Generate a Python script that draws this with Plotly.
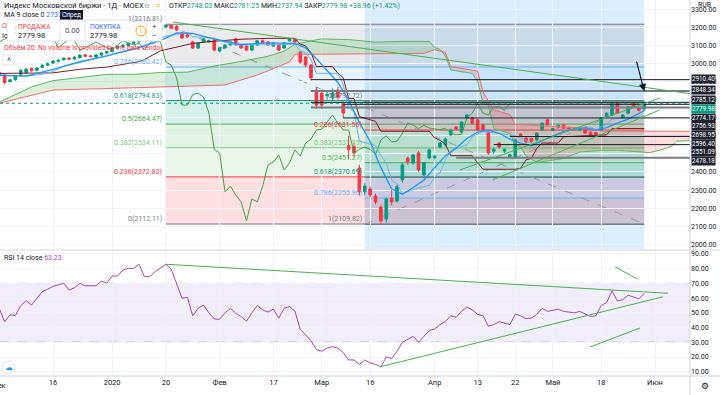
import plotly.graph_objects as go

# ---------------- data ----------------
bar_index = list(range(121))
opens = [2950, 2936, 2900, 2910, 2940, 2950, 2972, 2962, 2978, 2990,
         3002, 3012, 3020, 3030, 3025, 3032, 3048, 3042, 3036, 3047,
         3058, 3066, 3086, 3094, 3100, 3112, 3119, 3135, 3142, 3158,
         3176, 3202, 3212, 3205, 3169, 3158, 3119, 3086, 3119, 3120,
         3130, 3069, 3086, 3102, 3136, 3102, 3097, 3074, 3102, 3125,
         3119, 3097, 3102, 3086, 3125, 3136, 3063, 3036, 2991, 2853,
         2836, 2822, 2810, 2853, 2780, 2545, 2540, 2422, 2290, 2306,
         2267, 2206, 2140, 2255, 2240, 2356, 2477, 2450, 2505, 2383,
         2477, 2480, 2538, 2549, 2605, 2648, 2621, 2698, 2700, 2688,
         2660, 2621, 2515, 2560, 2515, 2485, 2483, 2610, 2588, 2585,
         2577, 2632, 2688, 2630, 2648, 2660, 2645, 2642, 2632, 2637,
         2620, 2618, 2632, 2705, 2715, 2780, 2698, 2725, 2780, 2752,
         2748.03]
highs = [2962, 2940, 2915, 2935, 2968, 2975, 2978, 2980, 2995, 3005,
         3018, 3022, 3032, 3035, 3040, 3050, 3052, 3046, 3052, 3062,
         3070, 3090, 3098, 3108, 3115, 3125, 3140, 3148, 3162, 3180,
         3205, 3216.81, 3215, 3212, 3172, 3162, 3125, 3118, 3140, 3132,
         3138, 3090, 3105, 3122, 3142, 3108, 3102, 3105, 3128, 3132,
         3124, 3118, 3108, 3118, 3140, 3140, 3068, 3040, 2998, 2870,
         2850, 2845, 2862, 2872, 2790, 2600, 2560, 2440, 2340, 2320,
         2280, 2215, 2260, 2300, 2330, 2450, 2485, 2500, 2515, 2455,
         2530, 2495, 2565, 2590, 2640, 2655, 2680, 2720, 2705, 2695,
         2668, 2625, 2535, 2565, 2530, 2500, 2585, 2615, 2592, 2590,
         2620, 2675, 2695, 2645, 2662, 2665, 2650, 2646, 2648, 2640,
         2625, 2622, 2702, 2730, 2790, 2785, 2720, 2765, 2785, 2756,
         2781.25]
lows = [2930, 2885, 2895, 2905, 2935, 2945, 2955, 2958, 2975, 2985,
        2998, 3005, 3015, 3020, 3020, 3028, 3035, 3034, 3032, 3042,
        3052, 3060, 3078, 3085, 3095, 3105, 3115, 3128, 3138, 3150,
        3170, 3195, 3190, 3180, 3135, 3142, 3080, 3080, 3115, 3115,
        3068, 3062, 3082, 3098, 3100, 3080, 3070, 3070, 3098, 3110,
        3098, 3092, 3070, 3080, 3122, 3112, 2998, 2980, 2905, 2750,
        2750, 2800, 2800, 2800, 2700, 2470, 2480, 2270, 2270, 2260,
        2220, 2109.82, 2120, 2215, 2230, 2340, 2440, 2440, 2400, 2380,
        2470, 2470, 2530, 2540, 2600, 2630, 2615, 2695, 2660, 2625,
        2625, 2495, 2500, 2530, 2505, 2480, 2475, 2595, 2560, 2562,
        2570, 2625, 2652, 2625, 2640, 2638, 2630, 2628, 2628, 2610,
        2598, 2595, 2625, 2700, 2710, 2720, 2695, 2720, 2755, 2735,
        2737.94]
closes = [2940, 2895, 2910, 2930, 2962, 2968, 2960, 2975, 2990, 2998,
          3013, 3018, 3030, 3024, 3035, 3046, 3040, 3038, 3047, 3058,
          3066, 3086, 3094, 3100, 3112, 3119, 3135, 3142, 3158, 3176,
          3200, 3210, 3195, 3185, 3141, 3147, 3086, 3113, 3136, 3125,
          3074, 3086, 3102, 3119, 3102, 3086, 3074, 3102, 3125, 3114,
          3102, 3113, 3074, 3113, 3136, 3119, 3008, 2991, 2920, 2770,
          2770, 2828, 2836, 2814, 2726, 2525, 2505, 2290, 2322, 2273,
          2234, 2130, 2250, 2235, 2320, 2439, 2455, 2494, 2411, 2450,
          2522, 2488, 2560, 2582, 2632, 2637, 2676, 2715, 2670, 2632,
          2632, 2505, 2525, 2538, 2525, 2495, 2577, 2600, 2566, 2570,
          2615, 2670, 2660, 2640, 2658, 2643, 2638, 2634, 2642, 2615,
          2605, 2608, 2698, 2725, 2780, 2725, 2715, 2760, 2760, 2741.02,
          2779.98]

tick_pos = [10, 21, 31, 41, 51, 60, 69, 81, 89, 96, 103, 112, 122]
tick_text = ["16", "2020", "20", "Фев", "17", "Мар", "16", "Апр", "13", "22", "Май", "18", "Июн"]
first_label = "Дек"
price_ticks = [2000, 2100, 2200, 2300, 2400, 2500, 2600, 2700, 2800, 2900, 3000, 3100, 3200, 3300]
rsi_ticks = [10, 20, 30, 40, 50, 60, 70, 80, 90]

ma9_idx = [0, 5, 10, 15, 20, 25, 30, 33, 36, 40, 45, 50, 55, 57, 59, 61, 63, 65, 67, 69, 71, 73, 75, 77, 79,
           81, 83, 85, 87, 89, 91, 93, 95, 97, 99, 101, 103, 105, 107, 109, 111, 113, 115, 117, 119, 120]
ma9_val = [2935, 2930, 2967, 3010, 3042, 3080, 3126, 3169, 3166, 3134, 3105, 3114, 3111, 3086, 3027, 2962, 2895,
           2798, 2674, 2569, 2424, 2307, 2277, 2314, 2354, 2424, 2489, 2531, 2585, 2621, 2631, 2614, 2582, 2559,
           2545, 2573, 2599, 2625, 2636, 2644, 2631, 2645, 2670, 2692, 2724, 2737.5]

tenkan_idx = [0, 5, 8, 10, 12, 14, 16, 18, 20, 22, 24, 26, 28, 30, 31, 33, 35, 36, 40, 42,
              44, 55, 56, 57, 58, 59, 63, 64, 65, 66, 67, 70, 71, 72, 73, 74, 75, 78, 80, 81,
              82, 83, 84, 86, 87, 88, 90, 96, 98, 99, 100, 102, 104, 105, 110, 111, 112, 113, 114, 120]
tenkan_val = [2935, 2930, 2940, 2956, 2983, 2997, 3013, 3025, 3042, 3059, 3073, 3086, 3107, 3141, 3151, 3161,
              3172, 3148, 3141, 3117, 3102, 3105, 3069, 3060, 3022, 2945, 2945, 2884, 2755, 2734, 2571, 2546,
              2491, 2450, 2355, 2335, 2280, 2312, 2325, 2372, 2395, 2465, 2520, 2540, 2550, 2595, 2625, 2600,
              2575, 2555, 2550, 2590, 2588, 2628, 2648, 2633, 2650, 2662, 2693, 2707]

kijun_idx = [0, 10, 15, 20, 26, 27, 30, 36, 40, 45, 50, 55, 56, 57, 58, 59, 62, 63, 64, 65,
             66, 67, 70, 71, 80, 81, 82, 83, 84, 88, 89, 90, 96, 97, 98, 99, 100, 101, 104, 105, 113, 114, 120]
kijun_val = [2945, 2948, 2968, 2980, 3010, 3022, 3070, 3111, 3123, 3134, 3139, 3139, 3107, 3097, 3060, 2983,
             2983, 2946, 2921, 2806, 2806, 2706, 2680, 2625, 2625, 2589, 2575, 2554, 2490, 2490, 2450, 2415,
             2415, 2420, 2467, 2475, 2530, 2560, 2560, 2595, 2605, 2640, 2640]

spanA_idx = [0, 6, 10, 20, 25, 30, 35, 40, 45, 50, 53, 55, 58, 60, 65, 70, 75, 80, 81, 82, 82.4,
             83, 84, 88, 89, 90, 91, 92, 95, 96, 97, 98, 100, 105, 108, 112, 115, 121, 123, 125, 126, 129]
spanA_val = [2787, 2870, 2905, 2940, 2940, 2950, 2952, 2986, 3011, 3040, 3068, 3105, 3125, 3136, 3132, 3118,
             3122, 3122, 3088, 3078, 3064, 3041, 2964, 2945, 2902, 2780, 2770, 2640, 2613, 2558, 2537, 2490,
             2452, 2475, 2510, 2520, 2520, 2507, 2521, 2540, 2570, 2574]
spanB_idx = [0, 10, 30, 42, 48, 54, 55, 79, 81, 82.4, 83, 84, 89, 90, 92, 95, 96, 110, 112, 129]
spanB_val = [2780, 2853, 2870, 2881, 2936, 3008, 3050, 3056, 3076, 3064, 3061, 2983, 2958, 2843, 2743, 2718,
             2663, 2641, 2626, 2625]
cloud_switch = 82.4
lag_shift = 25

rsi_vals = [53.0, 44.0, 48.6, 48.2, 54.9, 58.2, 55.3, 60.0, 64.4, 66.0,
            68.0, 69.0, 70.1, 65.5, 67.1, 70.0, 68.4, 68.4, 68.4, 71.6,
            70.1, 75.0, 75.0, 79.1, 80.2, 80.2, 83.0, 74.6, 74.6, 78.0,
            80.5, 83.0, 79.6, 70.0, 59.9, 60.5, 47.9, 53.1, 55.3, 50.0,
            45.8, 45.6, 50.0, 53.1, 49.7, 47.5, 44.3, 50.0, 54.9, 52.0,
            50.5, 52.6, 46.4, 53.1, 54.2, 51.2, 38.8, 35.0, 31.0, 25.0,
            24.0, 26.0, 27.0, 26.0, 23.0, 18.0, 18.0, 15.0, 18.0, 16.0,
            15.0, 13.3, 20.0, 19.0, 24.0, 30.0, 32.0, 34.0, 30.0, 34.0,
            38.0, 39.0, 42.0, 44.0, 48.0, 47.0, 51.0, 54.0, 52.0, 49.0,
            48.0, 41.0, 42.0, 44.0, 43.0, 42.0, 49.0, 48.0, 46.0, 46.5,
            49.0, 53.0, 51.0, 51.5, 52.5, 51.0, 50.5, 50.0, 51.0, 49.0,
            47.5, 48.0, 55.0, 57.0, 65.0, 58.0, 59.0, 62.0, 60.5, 59.5,
            63.23]

fib_coefs = ["1", "0.786", "0.618", "0.5", "0.382", "0.236", "0"]
fib1_x = [31, 120]
fib1_prices = [3216.81, 2980.42, 2794.83, 2664.47, 2534.11, 2372.82, 2112.11]
fib2_x = [68, 120]
fib2_prices = [2109.82, 2255.96, 2370.69, 2451.27, 2531.85, 2631.56, 2792.72]
range_box_x = [68, 120]

hline_prices = [2910.40, 2848.34, 2785.12, 2774.17, 2756.93, 2698.95, 2596.40, 2551.09, 2478.18]
hline_start = [58, 58, 58, 64, 58, 64, 95, 92, 85]

ptrend_x0 = [32.3, 85.7, 91.8]
ptrend_y0 = [3229, 2411, 2356]
ptrend_x1 = [128.5, 122.9, 122.9]
ptrend_y1 = [2833, 2809, 2743]

rtrend_x0 = [31, 70.8, 114.6, 109.9]
rtrend_y0 = [83.0, 13.3, 81.2, 26.8]
rtrend_x1 = [124.4, 123.5, 118.7, 119.2]
rtrend_y1 = [63.3, 60.9, 73.0, 39.7]

arrow_tail = (118.5, 3019)
arrow_tip = (120.0, 2847)

# ---------------- styles ----------------
FONT = "Roboto, Arial, sans-serif"
TXT = "#131722"
UP = "#089981"
DN = "#F23645"
fib_colors = {"1": "#787B86", "0.786": "#64B5F6", "0.618": "#089981", "0.5": "#4CAF50",
              "0.382": "#81C784", "0.236": "#F23645", "0": "#787B86"}
hline_colors = ["#131722", "#787B86", "#131722", "#131722", "#787B86", "#131722", "#131722", "#131722", "#787B86"]
hline_widths = [1, 2, 1, 1, 2, 1, 1, 1, 2]
hline_label_shift = [0.7, 1, 2, -13.8, -19, -17, -7.5, -7.5, -2.7]
cur_label_shift = -5.3

X_RANGE = [0.14, 128.51]
PW, PH = 690.0, 376.0


def hexa(c, a):
    c = c.lstrip("#")
    return "rgba(%d,%d,%d,%s)" % (int(c[0:2], 16), int(c[2:4], 16), int(c[4:6], 16), a)


def px(x):
    return x / PW


def py(y):
    return 1 - y / PH


fig = go.Figure()
shapes = []
ann = []

# range highlight
shapes.append(dict(type="rect", xref="x2", yref="paper", x0=range_box_x[0], x1=range_box_x[1],
                   y0=py(249), y1=1, fillcolor="rgba(33,150,243,0.16)", line_width=0, layer="below"))


def add_fib(xs, prices, labelside_shift):
    for k in range(len(prices) - 1):
        shapes.append(dict(type="rect", xref="x2", yref="y", x0=xs[0], x1=xs[1], y0=prices[k], y1=prices[k + 1],
                           fillcolor=hexa(fib_colors[fib_coefs[k]], 0.16), line_width=0, layer="below"))
    for k, p in enumerate(prices):
        col = fib_colors[fib_coefs[k]]
        shapes.append(dict(type="line", xref="x2", yref="y", x0=xs[0], x1=xs[1], y0=p, y1=p,
                           line=dict(color=col, width=1), layer="below"))
        ann.append(dict(xref="x2", yref="y", x=xs[0], y=p, text="%s(%.2f)" % (fib_coefs[k], p),
                        showarrow=False, xanchor="right", yanchor="bottom", xshift=labelside_shift, yshift=-1,
                        font=dict(size=7, color=col, family=FONT)))


add_fib(fib1_x, fib1_prices, -2)
add_fib(fib2_x, fib2_prices, -1)

# fib diagonals
shapes.append(dict(type="line", xref="x2", yref="y", x0=fib1_x[0], y0=fib1_prices[0], x1=fib1_x[1],
                   y1=fib1_prices[-1], line=dict(color="#9598A1", width=1, dash="dash"), layer="below"))
shapes.append(dict(type="line", xref="x2", yref="y", x0=fib2_x[0], y0=fib2_prices[0], x1=fib2_x[1],
                   y1=fib2_prices[-1], line=dict(color="#9598A1", width=1, dash="dash"), layer="below"))


# cloud fills
def seg(idx, val, cond):
    pts = [(i, v) for i, v in zip(idx, val) if cond(i)]
    return [p[0] for p in pts], [p[1] for p in pts]


for cond, col in [(lambda i: i <= cloud_switch, "rgba(76,175,80,0.20)"),
                  (lambda i: i >= cloud_switch, "rgba(242,54,69,0.17)")]:
    bx, bv = seg(spanB_idx, spanB_val, cond)
    ax_, av = seg(spanA_idx, spanA_val, cond)
    fig.add_trace(go.Scatter(x=bx, y=bv, mode="lines", line=dict(width=0), xaxis="x2", yaxis="y",
                             hoverinfo="skip", showlegend=False))
    fig.add_trace(go.Scatter(x=ax_, y=av, mode="lines", line=dict(width=0), fill="tonexty", fillcolor=col,
                             xaxis="x2", yaxis="y", hoverinfo="skip", showlegend=False))

fig.add_trace(go.Scatter(x=spanA_idx, y=spanA_val, mode="lines", line=dict(color="#5DB761", width=1),
                         xaxis="x2", yaxis="y", hoverinfo="skip", showlegend=False))
fig.add_trace(go.Scatter(x=spanB_idx, y=spanB_val, mode="lines", line=dict(color="#EF6F6F", width=1),
                         xaxis="x2", yaxis="y", hoverinfo="skip", showlegend=False))

# candles
fig.add_trace(go.Candlestick(x=bar_index, open=opens, high=highs, low=lows, close=closes,
                             increasing=dict(line=dict(color=UP, width=1), fillcolor=UP),
                             decreasing=dict(line=dict(color=DN, width=1), fillcolor=DN),
                             whiskerwidth=0, xaxis="x2", yaxis="y", hoverinfo="skip", showlegend=False))

# ichimoku lines / MA
fig.add_trace(go.Scatter(x=[i - lag_shift for i in bar_index], y=closes, mode="lines",
                         line=dict(color="#43A047", width=1), xaxis="x2", yaxis="y",
                         hoverinfo="skip", showlegend=False))
fig.add_trace(go.Scatter(x=kijun_idx, y=kijun_val, mode="lines", line=dict(color="#801922", width=1),
                         xaxis="x2", yaxis="y", hoverinfo="skip", showlegend=False))
fig.add_trace(go.Scatter(x=tenkan_idx, y=tenkan_val, mode="lines", line=dict(color="#64B5F6", width=1),
                         xaxis="x2", yaxis="y", hoverinfo="skip", showlegend=False))
fig.add_trace(go.Scatter(x=ma9_idx, y=ma9_val, mode="lines", line=dict(color="#2196F3", width=1.3),
                         xaxis="x2", yaxis="y", hoverinfo="skip", showlegend=False))

# horizontal lines + labels
for p, s, c, w, sh in zip(hline_prices, hline_start, hline_colors, hline_widths, hline_label_shift):
    shapes.append(dict(type="line", xref="x2", yref="y", x0=s, x1=X_RANGE[1], y0=p, y1=p,
                       line=dict(color=c, width=w), layer="above"))
    ann.append(dict(xref="paper", yref="y", x=1, y=p, yshift=sh, xanchor="left", xshift=1,
                    text="%.2f" % p, showarrow=False, bgcolor="#1E222D", borderpad=0,
                    font=dict(size=6.3, color="white", family=FONT)))

last = closes[-1]
shapes.append(dict(type="line", xref="x2", yref="y", x0=X_RANGE[0], x1=X_RANGE[1], y0=last, y1=last,
                   line=dict(color=UP, width=1, dash="dot"), layer="above"))
ann.append(dict(xref="paper", yref="y", x=1, y=last, yshift=cur_label_shift, xanchor="left", xshift=1,
                text="%.2f" % last, showarrow=False, bgcolor=UP, borderpad=0,
                font=dict(size=6.3, color="white", family=FONT)))

# price trend lines
for x0, y0, x1, y1 in zip(ptrend_x0, ptrend_y0, ptrend_x1, ptrend_y1):
    shapes.append(dict(type="line", xref="x2", yref="y", x0=x0, y0=y0, x1=x1, y1=y1,
                       line=dict(color="#4CAF50", width=1), layer="above"))

# arrow
ann.append(dict(xref="x2", yref="y", axref="x2", ayref="y", x=arrow_tip[0], y=arrow_tip[1],
                ax=arrow_tail[0], ay=arrow_tail[1], showarrow=True, arrowhead=2, arrowsize=1.2,
                arrowwidth=1.2, arrowcolor="#131722", text=""))

# ---------------- RSI ----------------
shapes.append(dict(type="rect", xref="x", yref="y2", x0=X_RANGE[0], x1=X_RANGE[1], y0=30, y1=70,
                   fillcolor="rgba(149,117,205,0.13)", line_width=0, layer="below"))
for lv in (70, 30):
    shapes.append(dict(type="line", xref="x", yref="y2", x0=X_RANGE[0], x1=X_RANGE[1], y0=lv, y1=lv,
                       line=dict(color="#9598A1", width=1, dash="dash"), layer="below"))
fig.add_trace(go.Scatter(x=bar_index, y=rsi_vals, mode="lines", line=dict(color="#A347BA", width=1),
                         xaxis="x", yaxis="y2", hoverinfo="skip", showlegend=False))
for x0, y0, x1, y1 in zip(rtrend_x0, rtrend_y0, rtrend_x1, rtrend_y1):
    shapes.append(dict(type="line", xref="x", yref="y2", x0=x0, y0=y0, x1=x1, y1=y1,
                       line=dict(color="#4CAF50", width=1), layer="above"))

# ---------------- frame / header ----------------
shapes.append(dict(type="line", xref="paper", yref="paper", x0=0, x1=720 / PW, y0=py(250), y1=py(250),
                   line=dict(color="#D1D4DC", width=1)))
shapes.append(dict(type="line", xref="paper", yref="paper", x0=0, x1=720 / PW, y0=py(376), y1=py(376),
                   line=dict(color="#D1D4DC", width=1)))
shapes.append(dict(type="line", xref="paper", yref="paper", x0=1, x1=1, y0=py(395), y1=py(0),
                   line=dict(color="#D1D4DC", width=1)))


def text(x, y, t, size=7.5, color=TXT, anchor="left", bg=None, **kw):
    d = dict(xref="paper", yref="paper", x=px(x), y=py(y), text=t, showarrow=False, xanchor=anchor,
             yanchor="middle", font=dict(size=size, color=color, family=FONT))
    if bg:
        d["bgcolor"] = bg
    d.update(kw)
    ann.append(d)


text(2, 5.5, "Индекс Московской биржи · 1Д · MOEX", 7.6)
text(142, 5.5, "⊖", 7, "#9598A1")
text(154, 5.5, "≡", 7, "#FF9800")
g = "<span style='color:#089981'>%s</span>"
text(167, 5.5, "ОТКР" + g % "2748.03" + " МАКС" + g % "2781.25" + " МИН" + g % "2737.94" + " ЗАКР" +
     g % "2779.98" + " " + g % "+38.96 (+1.42%)", 7)
text(2, 15.5, "MA 9 close 0 <span style='color:#2962FF'>2737.51</span>", 7)
text(0, 26, "О", 7, DN)
text(0, 36, "Ic", 7)
# tooltip
shapes.append(dict(type="rect", xref="paper", yref="paper", x0=px(60), x1=px(83), y0=py(20), y1=py(10),
                   fillcolor="#131722", line_width=0, layer="above"))
text(71.5, 15, "Спред", 6.5, "white", "center")
# order panel
shapes.append(dict(type="rect", xref="paper", yref="paper", x0=px(7), x1=px(162), y0=py(41), y1=py(20),
                   fillcolor="white", line=dict(color="#E0E3EB", width=1), layer="above"))
for xx in (60, 85, 147):
    shapes.append(dict(type="line", xref="paper", yref="paper", x0=px(xx), x1=px(xx), y0=py(41), y1=py(20),
                       line=dict(color="#E0E3EB", width=1), layer="above"))
text(10, 30.5, "⋮", 7, "#B2B5BE")
text(16, 26.5, "ПРОДАЖА", 6.5, DN)
text(16, 35, "2779.98", 7.5)
text(72.5, 31, "0.00", 7.5, "#50535E", "center")
text(88, 26.5, "ПОКУПКА", 6.5, "#2962FF")
text(88, 35, "2779.98", 7.5)
shapes.append(dict(type="circle", xref="paper", yref="paper", x0=px(136), x1=px(146), y0=py(36), y1=py(26),
                   fillcolor="white", line=dict(color="#FF9800", width=1), layer="above"))
text(141, 31, "i", 7, "#FF9800", "center")
text(154.5, 26, "+", 8, "#50535E", "center")
text(154.5, 36, "−", 8, "#50535E", "center")
text(2, 48, "Объём 20: No volume is provided by the data vendor.", 6.8, DN)
shapes.append(dict(type="rect", xref="paper", yref="paper", x0=px(3), x1=px(15), y0=py(65), y1=py(55),
                   fillcolor="white", line=dict(color="#E0E3EB", width=1), layer="above"))
text(9, 60.5, "˄", 7, TXT, "center")
text(2, 258, "RSI 14 close <span style='color:#A347BA'>63.23</span>", 7)
shapes.append(dict(type="circle", xref="paper", yref="paper", x0=px(2), x1=px(15), y0=py(374), y1=py(361),
                   fillcolor="white", line=dict(color="#E0E3EB", width=1), layer="above"))
text(8.5, 367.5, "☁", 8, "#2196F3", "center")
text(704, 5, "RUB", 7, TXT, "center")
text(-1, 385.5, first_label, 7.5, TXT, "center")
text(705, 385.5, "⚙", 9, TXT, "center")

fig.update_layout(
    width=720, height=395, margin=dict(l=0, r=30, t=0, b=19, autoexpand=False),
    paper_bgcolor="white", plot_bgcolor="white", showlegend=False, hovermode=False, dragmode=False,
    font=dict(family=FONT, size=7.5, color=TXT),
    xaxis=dict(domain=[0, 1], anchor="y2", range=X_RANGE, tickvals=tick_pos, ticktext=tick_text,
               showgrid=True, gridcolor="#F0F3FA", gridwidth=1, zeroline=False, showline=False,
               ticks="", tickfont=dict(size=7.5, color=TXT), automargin=False,
               rangeslider=dict(visible=False), fixedrange=True),
    xaxis2=dict(domain=[0, 1], anchor="y", range=X_RANGE, tickvals=tick_pos, showticklabels=False,
                showgrid=True, gridcolor="#F0F3FA", gridwidth=1, zeroline=False, showline=False,
                automargin=False, rangeslider=dict(visible=False), fixedrange=True),
    yaxis=dict(domain=[1 - 249 / PH, 1], anchor="x2", side="right", range=[1974, 3351],
               tickvals=price_ticks, tickformat=".2f", showgrid=True, gridcolor="#F0F3FA",
               zeroline=False, ticks="", tickfont=dict(size=7, color=TXT), automargin=False,
               fixedrange=True),
    yaxis2=dict(domain=[0, 1 - 251 / PH], anchor="x", side="right", range=[7.1, 92],
                tickvals=rsi_ticks, tickformat=".2f", showgrid=True, gridcolor="#F0F3FA",
                zeroline=False, ticks="", tickfont=dict(size=7, color=TXT), automargin=False,
                fixedrange=True),
    shapes=shapes, annotations=ann,
)

fig.write_html("out.html", config={"displayModeBar": False, "staticPlot": True},
               post_script="document.body.style.margin='0';document.body.style.overflow='hidden';")
